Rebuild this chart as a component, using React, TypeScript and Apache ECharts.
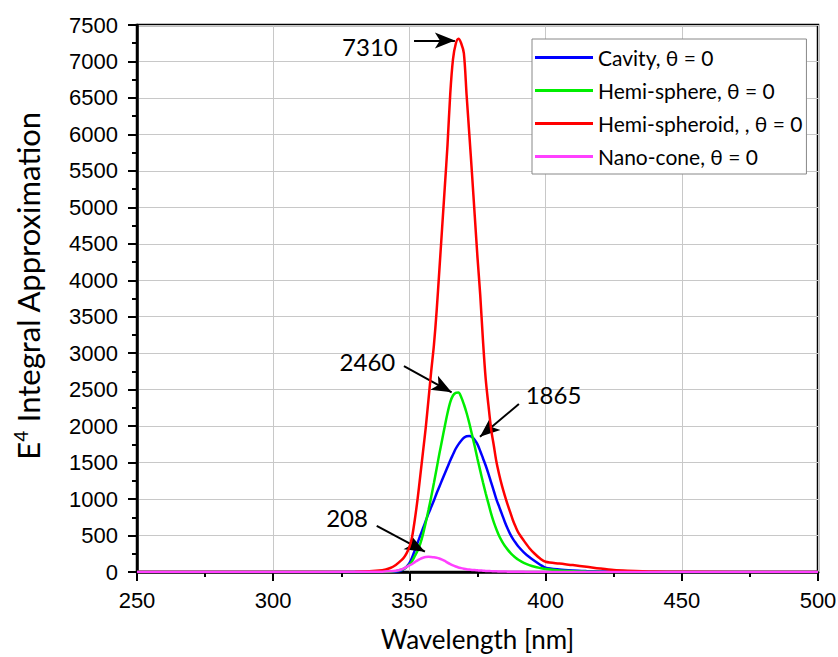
import React, { useEffect, useRef } from 'react';
import * as echarts from 'echarts';

const wavelengths = [250, 300, 330, 340, 343, 345, 347, 348, 349, 350, 351, 352, 353, 354, 355, 356, 357, 358, 359, 360, 361, 362, 363, 364, 365, 366, 367, 368, 369, 370, 371, 372, 373, 374, 375, 376, 377, 378, 379, 380, 381, 382, 383, 384, 385, 386, 387, 388, 389, 390, 392, 394, 396, 398, 400, 405, 410, 415, 420, 425, 430, 440, 450, 500];

const cavity = [0, 0, 0, 0, 2, 5, 20, 40, 75, 120, 200, 300, 400, 500, 600, 700, 800, 890, 980, 1080, 1170, 1260, 1350, 1440, 1530, 1610, 1690, 1750, 1800, 1840, 1862, 1865, 1850, 1810, 1750, 1660, 1560, 1460, 1350, 1230, 1110, 990, 890, 790, 690, 600, 520, 455, 400, 350, 270, 205, 150, 100, 60, 35, 22, 14, 8, 4, 2, 0, 0, 0];

const hemiSphere = [0, 0, 0, 0, 5, 12, 30, 45, 70, 100, 150, 220, 290, 390, 520, 680, 850, 1030, 1220, 1420, 1620, 1810, 2000, 2180, 2330, 2420, 2455, 2460, 2400, 2300, 2180, 2040, 1880, 1720, 1550, 1390, 1230, 1080, 940, 800, 680, 580, 490, 420, 360, 310, 265, 228, 195, 168, 125, 95, 72, 55, 40, 20, 10, 5, 2, 1, 0, 0, 0, 0];

const hemiSpheroid = [0, 0, 5, 25, 55, 96, 160, 200, 260, 340, 484, 720, 1000, 1320, 1650, 1980, 2360, 2750, 3110, 3580, 4140, 4710, 5280, 5860, 6560, 7030, 7240, 7310, 7250, 7110, 6540, 6000, 5450, 4880, 4310, 3800, 3180, 2650, 2290, 1960, 1730, 1500, 1330, 1180, 1050, 930, 820, 710, 620, 540, 430, 330, 250, 185, 140, 115, 95, 72, 48, 28, 18, 6, 2, 0];

const nanoCone = [0, 0, 2, 3, 10, 18, 35, 50, 70, 90, 110, 135, 160, 180, 195, 205, 208, 206, 202, 195, 185, 170, 152, 128, 108, 90, 75, 62, 53, 45, 38, 33, 29, 26, 23, 20, 18, 15, 13, 12, 10, 9, 8, 7, 6, 5, 4, 4, 3, 3, 2, 1, 1, 0, 0, 0, 0, 0, 0, 0, 0, 0, 0, 0];

const seriesNames = ['Cavity, θ = 0', 'Hemi-sphere, θ = 0', 'Hemi-spheroid, , θ = 0', 'Nano-cone, θ = 0'];
const seriesColors = ['#0000ff', '#00ee00', '#ff0000', '#ff40ff'];

const peakLabels = ['7310', '2460', '1865', '208'];
const labelPositions = [[335.5, 7212], [334.6, 2893], [402.9, 2427], [327.1, 754]];
const arrowFrom = [[351.7, 7287], [348.0, 2824], [390.2, 2303], [338.0, 631]];
const arrowTo = [[366.7, 7287], [365.5, 2464], [375.9, 1855], [355.7, 278]];

export default function App() {
  const ref = useRef<HTMLDivElement>(null);
  useEffect(() => {
    const chart = echarts.init(ref.current!, null, { renderer: 'svg' });
    const dataSets = [cavity, hemiSphere, hemiSpheroid, nanoCone];
    const series: any[] = seriesNames.map((name, i) => ({
      name,
      type: 'line',
      data: wavelengths.map((x, j) => [x, dataSets[i][j]]),
      showSymbol: false,
      smooth: 0.3,
      lineStyle: { color: seriesColors[i], width: 2.5 },
      itemStyle: { color: seriesColors[i] },
      z: 3 + i,
    }));
    series[2].markLine = {
      silent: true,
      symbol: ['none', 'arrow'],
      symbolSize: [12, 20],
      label: { show: false },
      lineStyle: { color: '#000', width: 2, type: 'solid' },
      emphasis: { disabled: true },
      data: arrowFrom.map((f, i) => [{ coord: f }, { coord: arrowTo[i] }]),
    };
    series[2].markPoint = {
      silent: true,
      symbol: 'circle',
      symbolSize: 0,
      itemStyle: { color: 'transparent' },
      label: {
        show: true,
        position: 'inside',
        formatter: '{b}',
        fontFamily: 'Lato',
        fontSize: 24,
        color: '#000',
      },
      data: peakLabels.map((t, i) => ({ name: t, coord: labelPositions[i], value: t })),
    };
    const tickFont = "'Liberation Sans', Arial, sans-serif";
    chart.setOption({
      animation: false,
      backgroundColor: '#fff',
      grid: {
        left: 137, right: 20, top: 25, bottom: 85,
        outerBoundsMode: 'none',
        containLabel: false,
        show: true, borderColor: '#000', borderWidth: 2.5, backgroundColor: 'transparent',
      },
      legend: {
        data: seriesNames,
        orient: 'vertical',
        left: 532,
        top: 39,
        itemWidth: 58,
        itemHeight: 3,
        icon: 'rect',
        itemGap: 12,
        padding: [8, 4, 7, 3],
        borderColor: '#888',
        borderWidth: 1,
        borderRadius: 0,
        backgroundColor: '#fff',
        textStyle: { fontFamily: 'Lato', fontSize: 21, color: '#000', lineHeight: 21 },
      },
      xAxis: {
        type: 'value', min: 250, max: 500, interval: 50,
        axisLine: { show: true, onZero: false, lineStyle: { color: '#000', width: 2.5 } },
        axisTick: { show: true, length: 9, lineStyle: { color: '#000', width: 2 } },
        minorTick: { show: true, splitNumber: 2, length: 5, lineStyle: { color: '#000', width: 2 } },
        splitLine: { show: true, lineStyle: { color: '#c8c8c8', width: 1 } },
        axisLabel: { fontFamily: tickFont, fontSize: 22, color: '#000', margin: 17, formatter: (v: number) => String(v) },
        name: 'Wavelength [nm]',
        nameLocation: 'middle',
        nameGap: 53,
        nameTextStyle: { fontFamily: 'Lato', fontSize: 26, color: '#000', lineHeight: 28 },
      },
      yAxis: {
        type: 'value', min: 0, max: 7500, interval: 500,
        axisLine: { show: true, onZero: false, lineStyle: { color: '#000', width: 2.5 } },
        axisTick: { show: true, length: 9, lineStyle: { color: '#000', width: 2 } },
        minorTick: { show: true, splitNumber: 2, length: 5, lineStyle: { color: '#000', width: 2 } },
        splitLine: { show: true, lineStyle: { color: '#c8c8c8', width: 1 } },
        axisLabel: { fontFamily: tickFont, fontSize: 22, color: '#000', margin: 19, formatter: (v: number) => String(v) },
        name: '{b|E}{s|4}{b| Integral Approximation}',
        nameLocation: 'middle',
        nameGap: 92,
        nameTextStyle: {
          color: '#000',
          padding: [0, 0, 0, 26],
          rich: {
            b: { fontFamily: 'Lato', fontSize: 31, color: '#000', lineHeight: 34 },
            s: { fontFamily: 'Lato', fontSize: 19, color: '#000', lineHeight: 34, verticalAlign: 'top' },
          },
        },
      },
      series,
    });
    return () => chart.dispose();
  }, []);
  return <div ref={ref} style={{ position: 'fixed', left: 0, top: 0, width: 838, height: 657 }} />;
}
